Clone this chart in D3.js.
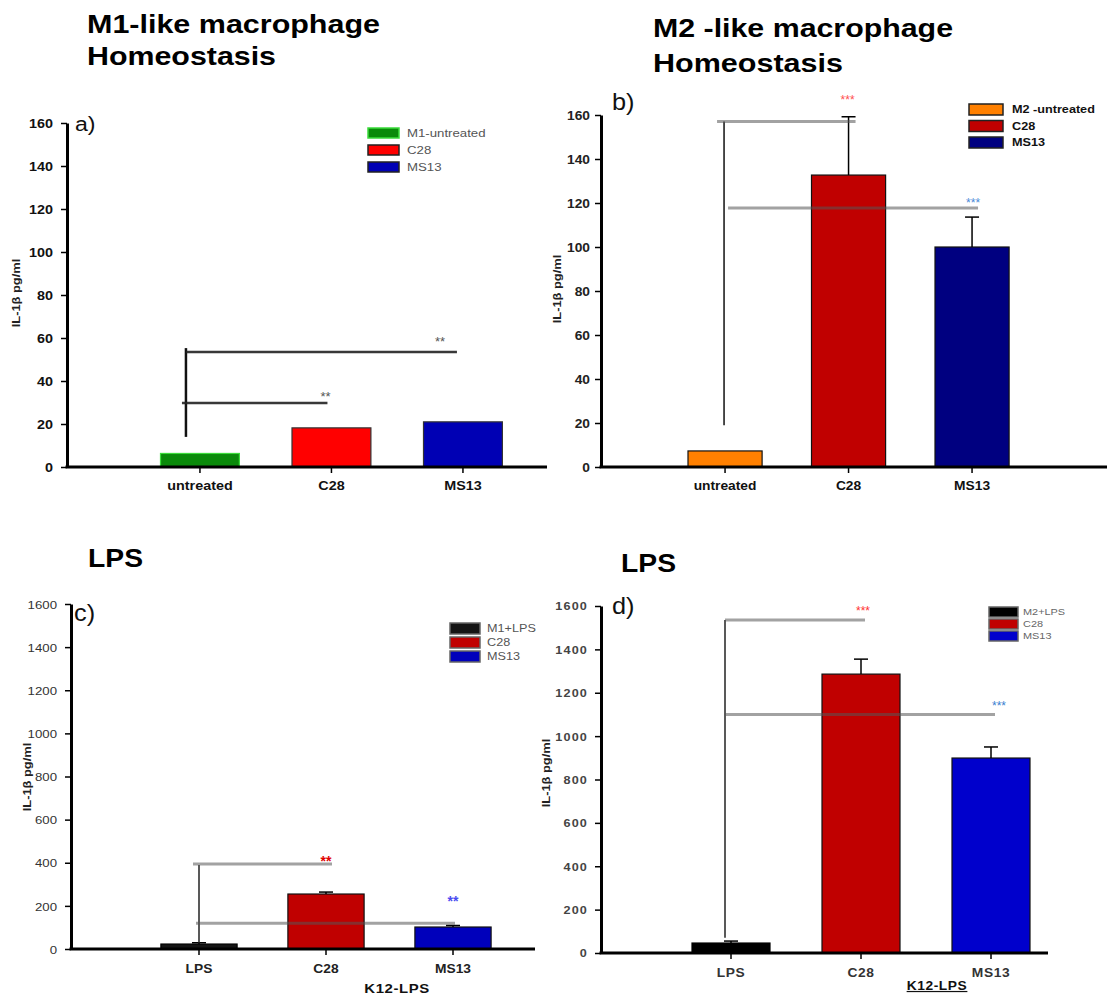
<!DOCTYPE html>
<html>
<head>
<meta charset="utf-8">
<script src="https://cdn.jsdelivr.net/npm/d3@7"></script>
<style>
  body { margin: 0; background: #fff; }
  svg { display: block; }
  text { font-family: "Liberation Sans", Arial, sans-serif; }
</style>
</head>
<body>
<svg id="chart" width="1107" height="996"></svg>
<script>
// ---- data ----
const homeoCats = ['untreated', 'C28', 'MS13'];
const lpsCats = ['LPS', 'C28', 'MS13'];

const homeoTicks = [0, 20, 40, 60, 80, 100, 120, 140, 160];
const lpsTicks = [0, 200, 400, 600, 800, 1000, 1200, 1400, 1600];

const aValues = [6.3, 18.2, 21.0];
const aErrors = [0, 0, 0];
const bValues = [7.3, 132.7, 100.0];
const bErrors = [0, 26.5, 13.6];
const cValues = [23, 255, 102];
const cErrors = [6, 9, 7];
const dValues = [46, 1286, 899];
const dErrors = [9, 69, 51];

const aLegend = ['M1-untreated', 'C28', 'MS13'];
const bLegend = ['M2 -untreated', 'C28', 'MS13'];
const cLegend = ['M1+LPS', 'C28', 'MS13'];
const dLegend = ['M2+LPS', 'C28', 'MS13'];

// significance: [target category index, line height, stars]
const aSig = [[1, 29.8, '**'], [2, 53.5, '**']];
const bSig = [[1, 157, '***'], [2, 117.7, '***']];
const cSig = [[1, 394, '**'], [2, 120, '**']];
const dSig = [[1, 1535, '***'], [2, 1100, '***']];
// vertical stem from, to
const aStem = [14, 55.3];
const bStem = [19, 157];
const cStem = [28, 390];
const dStem = [70, 1535];

const SX = 1.15; // the figure is a bit stretched horizontally
const svg = d3.select('#chart');

function stretchText(g, x, y, str, o) {
  o = o || {};
  const t = g.append('text')
    .attr('transform', `translate(${x},${y})` + (o.rot ? ' rotate(-90)' : '') + ` scale(${o.sx || SX},1)`)
    .attr('text-anchor', o.anchor || 'start')
    .style('font-size', (o.size || 12) + 'px')
    .style('font-weight', o.weight || 'normal')
    .attr('fill', o.color || '#000')
    .text(str);
  if (o.spacing) t.style('letter-spacing', o.spacing + 'px');
  if (o.underline) t.style('text-decoration', 'underline');
  return t;
}

function title(x, y, str, w) {
  svg.append('text')
    .attr('x', x).attr('y', y)
    .attr('textLength', w).attr('lengthAdjust', 'spacingAndGlyphs')
    .style('font-size', '26.5px').style('font-weight', 'bold')
    .attr('fill', '#000')
    .text(str);
}

title(87, 33, 'M1-like macrophage', 293);
title(87, 65, 'Homeostasis', 189);
title(653, 37, 'M2 -like macrophage', 300);
title(653, 72, 'Homeostasis', 190);
title(88, 567, 'LPS', 55);
title(621, 572, 'LPS', 55);

function drawPanel(p) {
  const g = svg.append('g');
  const y = d3.scaleLinear().domain([0, p.max]).range([p.yBot, p.yTop]);
  const x = d3.scaleBand().domain(p.cats).range(p.band).paddingInner(0.4).paddingOuter(0.2);
  const cx = i => x(p.cats[i]) + x.bandwidth() / 2;

  // bars
  g.selectAll('rect.bar')
    .data(p.values)
    .join('rect')
    .attr('class', 'bar')
    .attr('x', (d, i) => x(p.cats[i]))
    .attr('width', x.bandwidth())
    .attr('y', d => y(d))
    .attr('height', d => y(0) - y(d))
    .attr('fill', (d, i) => p.colors[i])
    .attr('stroke', (d, i) => p.barStroke[i])
    .attr('stroke-width', 1.2);

  // error bars
  p.values.forEach((v, i) => {
    const e = p.errors[i];
    if (!e) return;
    g.append('line').attr('x1', cx(i)).attr('x2', cx(i))
      .attr('y1', y(v)).attr('y2', y(v + e))
      .attr('stroke', '#000').attr('stroke-width', 1.5);
    g.append('line').attr('x1', cx(i) - 7).attr('x2', cx(i) + 7)
      .attr('y1', y(v + e)).attr('y2', y(v + e))
      .attr('stroke', '#000').attr('stroke-width', 1.5);
  });

  // y axis
  const ya = g.append('g')
    .attr('transform', `translate(${p.axisX},0)`)
    .call(d3.axisLeft(y).tickValues(p.ticks).tickFormat(d3.format('d')).tickSize(6).tickSizeOuter(0));
  ya.select('.domain').attr('stroke', '#000').attr('stroke-width', 3);
  ya.selectAll('.tick line').attr('stroke', '#000').attr('stroke-width', 1.5);
  ya.selectAll('.tick text')
    .attr('x', 0).attr('dy', '0.36em')
    .attr('transform', `translate(${-p.tickGap},0) scale(${SX},1)`)
    .attr('fill', p.tickColor)
    .style('font-family', '"Liberation Sans", Arial, sans-serif')
    .style('font-size', p.tickSize + 'px')
    .style('font-weight', p.tickWeight)
    .style('letter-spacing', (p.tickSpacing || 0) + 'px');

  // x axis
  const xa = g.append('g')
    .attr('transform', `translate(0,${p.yBot})`)
    .call(d3.axisBottom(x).tickSize(6).tickSizeOuter(0));
  xa.select('.domain').remove();
  xa.selectAll('.tick line').attr('stroke', '#000').attr('stroke-width', 1.5);
  xa.selectAll('.tick text')
    .attr('y', 0).attr('dy', null)
    .attr('transform', `translate(0,${p.xLabY - p.yBot}) scale(${SX},1)`)
    .attr('fill', p.xColor)
    .style('font-family', '"Liberation Sans", Arial, sans-serif')
    .style('font-size', p.xSize + 'px')
    .style('font-weight', 'bold')
    .style('letter-spacing', (p.xSpacing || 0) + 'px');
  g.append('line')
    .attr('x1', p.axisX - 1.5).attr('x2', p.axisEnd)
    .attr('y1', p.yBot).attr('y2', p.yBot)
    .attr('stroke', '#000').attr('stroke-width', 3);

  // significance lines
  const stemX = cx(0) + p.stemDx;
  g.append('line').attr('x1', stemX).attr('x2', stemX)
    .attr('y1', y(p.stem[0])).attr('y2', y(p.stem[1]))
    .attr('stroke', p.stemColor).attr('stroke-width', p.stemWidth);
  p.sig.forEach((s, k) => {
    const [ti, lv, stars] = s;
    g.append('line')
      .attr('x1', stemX + p.sigStart[k]).attr('x2', cx(ti) + p.sigEnd[k])
      .attr('y1', y(lv)).attr('y2', y(lv))
      .attr('stroke', p.sigColor).attr('stroke-opacity', p.sigOpacity)
      .attr('stroke-width', p.sigWidth);
    const sy = y(lv) + p.starDy[k] + 0.6 * p.starSize;
    stretchText(g, cx(ti) + p.starDx[k], sy, stars,
      { anchor: 'middle', size: p.starSize, color: p.starColors[k], weight: p.starWeight, sx: 1 });
  });

  // legend
  p.legend.forEach((lab, i) => {
    const ly = p.legY + i * p.legStep;
    g.append('rect')
      .attr('x', p.legX).attr('y', ly)
      .attr('width', p.legW).attr('height', p.legH)
      .attr('fill', p.colors[i])
      .attr('stroke', p.legStroke[i]).attr('stroke-width', 1.5);
    stretchText(g, p.legTextX, ly + p.legH / 2 + 0.36 * p.legSize, lab,
      { size: p.legSize, color: p.legColor, weight: p.legWeight, spacing: p.legSpacing });
  });

  // panel letter
  stretchText(g, p.letter[1], p.letter[2], p.letter[0], { size: p.letter[3], color: '#111', sx: 1.1 });

  // y label
  stretchText(g, p.yLab[0], p.yLab[1], 'IL-1\u03b2 pg/ml',
    { rot: true, anchor: 'middle', size: 11.5, weight: 'bold', color: '#222', sx: 1.12 });

  // x title
  if (p.xTitle) {
    stretchText(g, p.xTitle[0], p.xTitle[1], 'K12-LPS',
      { anchor: 'middle', size: p.xTitle[2], weight: 'bold', color: '#111', spacing: 0.5, underline: p.xTitle[3] });
  }
}

drawPanel({
  cats: homeoCats, values: aValues, errors: aErrors, max: 160, ticks: homeoTicks,
  colors: ['#0a8a0a', '#ff0000', '#0000b4'],
  barStroke: ['#3bdc3b', '#333', '#333'],
  yTop: 123, yBot: 467, axisX: 67, axisEnd: 547, band: [134.2, 528.7],
  tickGap: 14, tickSize: 12.5, tickWeight: 'bold', tickColor: '#111',
  xLabY: 490, xSize: 12.5, xColor: '#111',
  stem: aStem, stemDx: -14, stemColor: '#111', stemWidth: 2.5,
  sig: aSig, sigStart: [-4, 0], sigEnd: [-4, -6], sigColor: '#222', sigOpacity: 0.9, sigWidth: 2.5,
  starDx: [-6, -23], starDy: [-10, -14], starSize: 13, starColors: ['#555', '#555'], starWeight: 'normal',
  legend: aLegend, legX: 368, legY: 128, legStep: 17, legW: 31, legH: 10,
  legStroke: ['#3bdc3b', '#222', '#222'], legTextX: 407, legSize: 11.5, legColor: '#555', legWeight: 'normal',
  letter: ['a)', 75, 131, 21],
  yLab: [20, 293]
});

drawPanel({
  cats: homeoCats, values: bValues, errors: bErrors, max: 160, ticks: homeoTicks,
  colors: ['#ff8000', '#c00000', '#000080'],
  barStroke: ['#111', '#111', '#111'],
  yTop: 115, yBot: 467, axisX: 601, axisEnd: 1107, band: [663.3, 1033.8],
  tickGap: 11, tickSize: 12, tickWeight: 'bold', tickColor: '#222',
  xLabY: 490, xSize: 12, xColor: '#111',
  stem: bStem, stemDx: -1, stemColor: '#111', stemWidth: 1.5,
  sig: bSig, sigStart: [-7, 4], sigEnd: [7, 6], sigColor: '#555', sigOpacity: 0.55, sigWidth: 3,
  starDx: [-1, 1], starDy: [-25, -8], starSize: 12, starColors: ['#ff5050', '#4a8ad8'], starWeight: 'normal',
  legend: bLegend, legX: 969, legY: 104, legStep: 16.5, legW: 34, legH: 11,
  legStroke: ['#222', '#222', '#222'], legTextX: 1012, legSize: 11, legColor: '#111', legWeight: 'bold',
  letter: ['b)', 612, 110, 23],
  yLab: [561, 289]
});

drawPanel({
  cats: lpsCats, values: cValues, errors: cErrors, max: 1600, ticks: lpsTicks,
  colors: ['#151515', '#c00000', '#0000bb'],
  barStroke: ['#000', '#111', '#111'],
  yTop: 604, yBot: 949, axisX: 71, axisEnd: 535, band: [135.5, 516.5],
  tickGap: 14, tickSize: 11.5, tickWeight: 'normal', tickColor: '#333',
  xLabY: 973, xSize: 12, xColor: '#222',
  stem: cStem, stemDx: 0, stemColor: '#222', stemWidth: 1.5,
  sig: cSig, sigStart: [-6, -3], sigEnd: [6, 2], sigColor: '#555', sigOpacity: 0.55, sigWidth: 3,
  starDx: [0, 0], starDy: [-6, -26], starSize: 14, starColors: ['#e00000', '#4a4af0'], starWeight: 'bold',
  legend: cLegend, legX: 450, legY: 623, legStep: 14, legW: 30, legH: 11,
  legStroke: ['#666', '#666', '#666'], legTextX: 487, legSize: 11, legColor: '#555', legWeight: 'normal',
  letter: ['c)', 74, 621, 23],
  yLab: [31, 777],
  xTitle: [397, 993, 13, false]
});

drawPanel({
  cats: lpsCats, values: dValues, errors: dErrors, max: 1600, ticks: lpsTicks,
  colors: ['#000000', '#c00000', '#0000cc'],
  barStroke: ['#000', '#111', '#111'],
  yTop: 606, yBot: 953, axisX: 601, axisEnd: 1048, band: [666, 1056],
  tickGap: 13, tickSize: 11, tickWeight: 'bold', tickColor: '#444', tickSpacing: 1,
  xLabY: 977, xSize: 12, xColor: '#333', xSpacing: 0.5,
  stem: dStem, stemDx: -6, stemColor: '#222', stemWidth: 1.5,
  sig: dSig, sigStart: [0, 0], sigEnd: [4, 4], sigColor: '#555', sigOpacity: 0.55, sigWidth: 3,
  starDx: [2, 8], starDy: [-12, -12], starSize: 12, starColors: ['#ff3030', '#3a80d0'], starWeight: 'normal',
  legend: dLegend, legX: 989, legY: 607, legStep: 12, legW: 29, legH: 10,
  legStroke: ['#666', '#666', '#666'], legTextX: 1023, legSize: 9.5, legColor: '#666', legWeight: 'normal',
  letter: ['d)', 612, 614, 23],
  yLab: [550, 773],
  xTitle: [937, 990, 12, true]
});
</script>
</body>
</html>
